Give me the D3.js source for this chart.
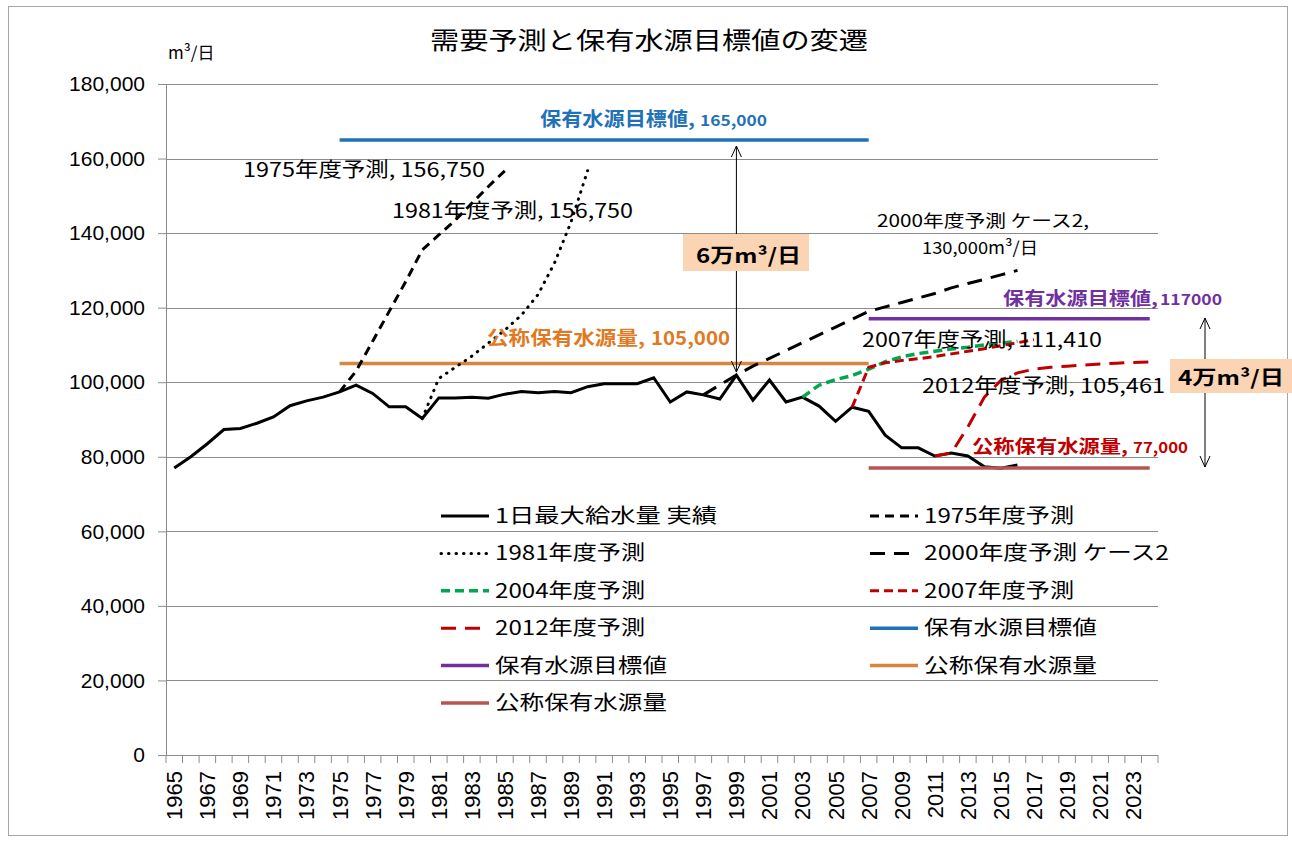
<!DOCTYPE html>
<html>
<head>
<meta charset="utf-8">
<script src="https://cdn.jsdelivr.net/npm/d3@7"></script>
<style>
  body { margin: 0; background: #fff; }
  svg text { font-family: "Noto Sans CJK JP", sans-serif; }
  .num { font-family: "Liberation Sans", Arial, sans-serif; }
</style>
</head>
<body>
<svg id="chart" width="1292" height="841"></svg>
<script>
// categories
var years = d3.range(1965, 2025);
var yTicks = [0, 20000, 40000, 60000, 80000, 100000, 120000, 140000, 160000, 180000];

// 1日最大給水量 実績 (1965 - 2016)
var actualStart = 1965;
var actual = [77000, 80000, 83500, 87300, 87600, 89000, 90700, 93700, 95000, 96000,
  97400, 99200, 97000, 93400, 93400, 90300, 95800, 95800, 96000, 95700,
  96800, 97500, 97200, 97500, 97200, 98800, 99600, 99600, 99600, 101200,
  94700, 97400, 96600, 95500, 101900, 95200, 100600, 94700, 96000, 93600,
  89500, 93300, 92200, 85800, 82400, 82400, 80200, 81000, 80200, 77300,
  76900, 77800];

// forecasts
var fc1975Start = 1975;
var fc1975 = [97400, 103000, 111000, 119000, 127000, 135500, 139500, 143500, 148000, 152500, 156750];
var fc1981Start = 1980;
var fc1981 = [90300, 101000, 104000, 107000, 110500, 114000, 118000, 123500, 132000, 143000, 156750];
var fc2000Start = 1997;
var fc2000 = [96600, 99300, 101900, 104300, 106400, 108500, 110600, 112700, 114800, 116900,
  119000, 120200, 121400, 122600, 123800, 125300, 126500, 127600, 128800, 130000];
var fc2004Start = 2003;
var fc2004 = [96000, 99200, 100700, 101800, 103500, 105500, 106800, 107700, 108300, 108900,
  109400, 110000, 110500, 111000];
var fc2007Start = 2006;
var fc2007 = [93300, 104000, 105200, 105800, 106300, 106900, 107600, 108300, 109000, 109800,
  110600, 111410];
var fc2012Start = 2011;
var fc2012 = [80200, 81000, 88000, 96000, 100500, 102500, 103500, 104000, 104300, 104600,
  104900, 105100, 105300, 105461];

// targets / capacities
var target165 = [[1975, 165000], [2007, 165000]];
var target117 = [[2007, 117000], [2024, 117000]];
var capacity105 = [[1975, 105000], [2007, 105000]];
var capacity77 = [[2007, 77000], [2024, 77000]];

var legendLabels = ["1日最大給水量 実績", "1975年度予測", "1981年度予測", "2000年度予測 ケース2",
  "2004年度予測", "2007年度予測", "2012年度予測", "保有水源目標値", "保有水源目標値",
  "公称保有水源量", "公称保有水源量"];

(function () {

  function seq(start, vals) {
    return vals.map(function (v, i) { return [start + i, v]; });
  }

  var svg = d3.select("#chart");
  var mLeft = 166, mRight = 1158, mTop = 84, mBottom = 755;

  var x = d3.scaleBand().domain(years).range([mLeft, mRight]).padding(0);
  var bw = x.bandwidth();
  var y = d3.scaleLinear().domain([0, 180000]).range([mBottom, mTop]);
  function cx(yr) { return x(yr) + bw / 2; }

  // outer frame
  svg.append("rect").attr("x", 8.5).attr("y", 6.5).attr("width", 1279).attr("height", 829)
    .attr("fill", "#fff").attr("stroke", "#a6a6a6");

  // labels
  function label(t, xx, yy, size, w, color, bold) {
    var el = svg.append("text").attr("x", xx).attr("y", yy).attr("font-size", size)
      .style("fill", color || "#000").attr("font-weight", bold ? "bold" : "normal").text(t);
    if (w) el.attr("textLength", w).attr("lengthAdjust", "spacingAndGlyphs");
    return el;
  }

  // title
  label("需要予測と保有水源目標値の変遷", 430, 49, 24, 438);
  label("m³/日", 168, 59, 17);

  // gridlines
  svg.append("g").selectAll("line").data(yTicks.slice(1)).enter().append("line")
    .attr("x1", mLeft).attr("x2", mRight)
    .attr("y1", function (d) { return Math.round(y(d)) + 0.5; })
    .attr("y2", function (d) { return Math.round(y(d)) + 0.5; })
    .attr("stroke", "#8c8c8c").attr("stroke-width", 1);

  // y axis
  var yAxis = svg.append("g").attr("transform", "translate(" + mLeft + ",0)")
    .call(d3.axisLeft(y).tickValues(yTicks).tickFormat(d3.format(",")).tickSize(8).tickPadding(13));
  yAxis.selectAll("text").attr("class", "num").attr("font-size", 21).style("fill", "#000");
  yAxis.selectAll("line").attr("stroke", "#8c8c8c");
  yAxis.select(".domain").attr("stroke", "#8c8c8c");

  // x axis
  var xg = svg.append("g");
  xg.append("line").attr("x1", mLeft).attr("x2", mRight).attr("y1", mBottom + 0.5).attr("y2", mBottom + 0.5)
    .attr("stroke", "#8c8c8c");
  xg.selectAll(".tk").data(years.concat([2025])).enter().append("line")
    .attr("x1", function (d) { return d === 2025 ? mRight : x(d); })
    .attr("x2", function (d) { return d === 2025 ? mRight : x(d); })
    .attr("y1", mBottom).attr("y2", mBottom + 8).attr("stroke", "#8c8c8c");
  xg.selectAll(".lb").data(years.filter(function (d) { return (d - 1965) % 2 === 0; }))
    .enter().append("text").attr("class", "num").attr("font-size", 22)
    .style("fill", "#000")
    .attr("text-anchor", "end").attr("dy", "0.36em")
    .attr("transform", function (d) { return "translate(" + cx(d) + "," + (mBottom + 16) + ") rotate(-90)"; })
    .text(function (d) { return d; });

  var line = d3.line().x(function (d) { return cx(d[0]); }).y(function (d) { return y(d[1]); });

  var series = [
    { data: capacity105, color: "#d9853b", dash: null, w: 3.5 },
    { data: target165, color: "#1f72b8", dash: null, w: 3.5 },
    { data: target117, color: "#7030a0", dash: null, w: 3.5 },
    { data: seq(actualStart, actual), color: "#000", dash: null, w: 3 },
    { data: capacity77, color: "#b65552", dash: null, w: 3.5 },
    { data: seq(fc1975Start, fc1975), color: "#000", dash: "9,6", w: 3 },
    { data: seq(fc1981Start, fc1981), color: "#000", dash: "0.5,7", w: 3, cap: "round" },
    { data: seq(fc2000Start, fc2000), color: "#000", dash: "15,9", w: 3 },
    { data: seq(fc2004Start, fc2004), color: "#00a650", dash: "9,5", w: 3.5 },
    { data: seq(fc2007Start, fc2007), color: "#c00000", dash: "9,5", w: 3 },
    { data: seq(fc2012Start, fc2012), color: "#c00000", dash: "15,9", w: 3 }
  ];

  svg.append("g").selectAll("path").data(series).enter().append("path")
    .attr("d", function (d) { return line(d.data); })
    .attr("fill", "none")
    .attr("stroke", function (d) { return d.color; })
    .attr("stroke-width", function (d) { return d.w; })
    .attr("stroke-dasharray", function (d) { return d.dash; })
    .attr("stroke-linecap", function (d) { return d.cap || "butt"; })
    .attr("stroke-linejoin", "miter");

  label("保有水源目標値,", 540, 126, 19, 155, "#1f72b8", true);
  label("165,000", 700, 126, 15, 67, "#1f72b8", true);
  label("1975年度予測, 156,750", 243, 177, 20, 242);
  label("1981年度予測, 156,750", 392, 218, 20, 241);
  label("2000年度予測 ケース2,", 877, 227, 17, 212);
  label("130,000m³/日", 922, 254, 17, 116);
  label("保有水源目標値,", 1003, 305, 18, 155, "#7030a0", true);
  label("117000", 1160, 305, 15, 62, "#7030a0", true);
  label("公称保有水源量,", 487, 345, 19, 158, "#e07a22", true);
  label("105,000", 651, 345, 19, 79, "#e07a22", true);
  label("2007年度予測, 111,410", 862, 347, 20, 240);
  label("2012年度予測, 105,461", 922, 393, 20, 243);
  label("公称保有水源量,", 972, 453, 18, 156, "#c00000", true);
  label("77,000", 1133, 453, 15, 55, "#c00000", true);

  // arrows
  function arrow(xx, y1, y2) {
    var g = svg.append("g").attr("stroke", "#000").attr("fill", "none").attr("stroke-width", 1);
    g.append("line").attr("x1", xx).attr("x2", xx).attr("y1", y1).attr("y2", y2);
    g.append("path").attr("d", "M" + (xx - 5) + "," + (y1 + 11) + "L" + xx + "," + y1 + "L" + (xx + 5) + "," + (y1 + 11));
    g.append("path").attr("d", "M" + (xx - 5) + "," + (y2 - 11) + "L" + xx + "," + y2 + "L" + (xx + 5) + "," + (y2 - 11));
  }
  arrow(cx(1999), 146, 372);
  arrow(1205, 318, 467);

  function box(t, x0, y0, w, h, tx, ty, tw) {
    svg.append("rect").attr("x", x0).attr("y", y0).attr("width", w).attr("height", h).attr("fill", "#fbd4b4");
    label(t, tx, ty, 20, tw, "#000", true);
  }
  box("6万m³/日", 683, 234, 126, 37, 696, 263, 105);
  box("4万m³/日", 1170, 359, 124, 34, 1178, 385, 106);

  // legend
  var legendItems = [
    series[3], series[5], series[6], series[7], series[8], series[9],
    series[10], series[1], series[2], series[0], series[4]
  ];
  var legendW = [222, 150, 150, 245, 150, 150, 150, 173, 172, 173, 172];
  var lg = svg.append("g");
  legendItems.forEach(function (s, i) {
    var col = i % 2, row = Math.floor(i / 2);
    var lx = col === 0 ? 441 : 870;
    var ly = 516 + row * 37.4;
    lg.append("line").attr("x1", lx).attr("x2", lx + 48).attr("y1", ly).attr("y2", ly)
      .attr("stroke", s.color).attr("stroke-width", s.w)
      .attr("stroke-dasharray", s.dash).attr("stroke-linecap", s.cap || "butt");
    label(legendLabels[i], lx + 54, ly + 7, 20, legendW[i]);
  });

})();
</script>
</body>
</html>
